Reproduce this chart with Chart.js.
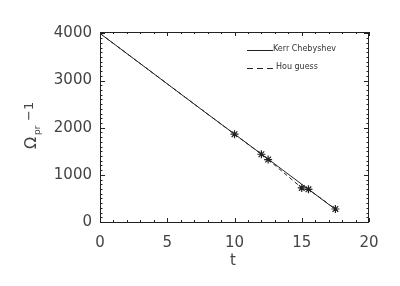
<!DOCTYPE html>
<html>
<head>
<meta charset="utf-8">
<script src="https://cdn.jsdelivr.net/npm/chart.js@4"></script>
<style>
  html, body { margin: 0; padding: 0; background: #fff; }
  #wrap { width: 400px; height: 286px; }
</style>
</head>
<body>
<div id="wrap"><canvas id="c" width="400" height="286"></canvas></div>
<script>
// --- DATA ---
const kerrT = [0, 2.5, 5, 7.5, 10, 12.5, 15, 17.7];
const kerrV = [4000, 3465, 2930, 2395, 1865, 1335, 800, 227];

const houT = [0, 10, 12, 12.5, 15, 15.5, 17.5];
const houV = [4000, 1862, 1437, 1325, 722, 694, 276];

const markT = [10, 12, 12.5, 15, 15.5, 17.5];
const markV = [1862, 1437, 1325, 722, 694, 276];

const xTicks = [0, 5, 10, 15, 20];
const yTicks = [0, 1000, 2000, 3000, 4000];

const FONT = '"DejaVu Sans", sans-serif';
const INK = '#222';

const toXY = (xs, ys) => xs.map((x, i) => ({ x, y: ys[i] }));

// --- IDL-STYLE BOX, INWARD TICKS, AXIS TITLES, LEGEND ---
const idlFrame = {
  id: 'idlFrame',
  afterDraw(chart) {
    const { ctx, chartArea: a, scales } = chart;
    const xs = scales.x, ys = scales.y;
    ctx.save();
    ctx.strokeStyle = INK;
    ctx.lineWidth = 1;
    ctx.strokeRect(a.left + 0.5, a.top + 0.5, a.right - a.left - 1, a.bottom - a.top);

    ctx.beginPath();
    for (let t = 0; t <= 20; t++) {
      const px = Math.round(xs.getPixelForValue(t)) + 0.5;
      const len = t % 5 === 0 ? 4 : 2;
      ctx.moveTo(px, a.bottom); ctx.lineTo(px, a.bottom - len);
      ctx.moveTo(px, a.top); ctx.lineTo(px, a.top + len);
    }
    for (let v = 0; v <= 4000; v += 100) {
      const py = Math.round(ys.getPixelForValue(v)) + 0.5;
      const len = v % 1000 === 0 ? 5 : 2.5;
      ctx.moveTo(a.left, py); ctx.lineTo(a.left + len, py);
      ctx.moveTo(a.right, py); ctx.lineTo(a.right - len, py);
    }
    ctx.stroke();

    // y title: Omega_pr -1, rotated
    ctx.fillStyle = '#444';
    ctx.translate(36, 142);
    ctx.rotate(-Math.PI / 2);
    ctx.textBaseline = 'alphabetic';
    ctx.textAlign = 'left';
    ctx.font = '16px ' + FONT;
    ctx.fillText('Ω', -7, 0);
    ctx.font = '9px ' + FONT;
    ctx.fillText('pr', 7, 4);
    ctx.font = '13px ' + FONT;
    ctx.fillText('−1', 21, -3);
    ctx.setTransform(1, 0, 0, 1, 0, 0);

    // x title
    ctx.font = '15px ' + FONT;
    ctx.textAlign = 'center';
    ctx.textBaseline = 'middle';
    ctx.fillText('t', 233, 261);

    // legend
    const items = chart.data.datasets.filter(d => d.showLegend);
    ctx.font = '8px ' + FONT;
    ctx.textAlign = 'left';
    items.forEach((d, i) => {
      const y = 50.5 + i * 18;
      ctx.strokeStyle = INK;
      ctx.setLineDash(d.showLegend === 'dash' ? [6, 4] : []);
      ctx.beginPath();
      ctx.moveTo(247, y); ctx.lineTo(273, y);
      ctx.stroke();
      ctx.setLineDash([]);
      ctx.fillStyle = '#333';
      ctx.fillText(d.label, i === 0 ? 273 : 276, y - 2);
    });
    ctx.restore();
  }
};

const ctx = document.getElementById('c').getContext('2d');
new Chart(ctx, {
  type: 'scatter',
  data: {
    datasets: [
      {
        label: 'Kerr Chebyshev',
        showLegend: 'solid',
        type: 'line',
        data: toXY(kerrT, kerrV),
        borderColor: INK,
        borderWidth: 1,
        pointRadius: 0,
        tension: 0
      },
      {
        label: 'Hou guess',
        showLegend: 'dash',
        type: 'line',
        data: toXY(houT, houV),
        borderColor: INK,
        borderWidth: 1,
        borderDash: [4, 3],
        pointRadius: 0,
        tension: 0
      },
      {
        label: 'points',
        data: toXY(markT, markV),
        pointStyle: 'star',
        pointRadius: 4,
        borderColor: INK,
        borderWidth: 1.2,
        backgroundColor: INK
      }
    ]
  },
  options: {
    responsive: false,
    animation: false,
    devicePixelRatio: 1,
    layout: { padding: { top: 32, right: 31, left: 0, bottom: 0 } },
    plugins: { legend: { display: false }, tooltip: { enabled: false } },
    scales: {
      x: {
        type: 'linear',
        min: 0, max: 20,
        grid: { display: false, drawTicks: false },
        border: { display: false },
        afterBuildTicks: s => { s.ticks = xTicks.map(v => ({ value: v })); },
        afterFit: s => { s.height = 64; },
        ticks: { color: '#444', font: { family: FONT, size: 15 }, padding: 12, maxRotation: 0 }
      },
      y: {
        type: 'linear',
        min: 0, max: 4030,
        grid: { display: false, drawTicks: false },
        border: { display: false },
        afterBuildTicks: s => { s.ticks = yTicks.map(v => ({ value: v })); },
        afterFit: s => { s.width = 100; },
        ticks: { color: '#444', font: { family: FONT, size: 15 }, padding: 8, callback: v => String(v) }
      }
    }
  },
  plugins: [idlFrame]
});
</script>
</body>
</html>
